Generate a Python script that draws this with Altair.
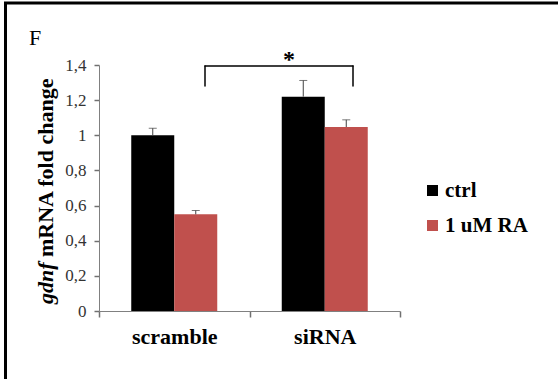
import altair as alt
import pandas as pd

groups = ["scramble", "scramble", "siRNA", "siRNA"]
treatments = ["ctrl", "1 uM RA", "ctrl", "1 uM RA"]
values = [1.0, 0.55, 1.22, 1.047]
uppers = [1.04, 0.572, 1.312, 1.088]
y_ticks = [0, 0.2, 0.4, 0.6, 0.8, 1.0, 1.2, 1.4]
treat_order = ["ctrl", "1 uM RA"]
treat_colors = ["#000000", "#C0504D"]

df = pd.DataFrame({"group": groups, "treatment": treatments,
                   "value": values, "upper": uppers})

FONT = "Times New Roman"

x_axis = alt.Axis(title=None, labelAngle=0, tickBand="extent")
x_enc = alt.X("group:N", sort=["scramble", "siRNA"],
              scale=alt.Scale(paddingInner=0, paddingOuter=0), axis=x_axis)
xo_enc = alt.XOffset("treatment:N", sort=treat_order,
                     scale=alt.Scale(domain=treat_order, paddingInner=0, paddingOuter=0.75))
y_scale = alt.Scale(domain=[0, 1.4], nice=False, zero=True)
y_axis = alt.Axis(title=None, values=y_ticks,
                  labelExpr="replace(format(datum.value, '.1~f'), '.', ',')")

base = alt.Chart(df)

bars = base.mark_bar().encode(
    x=x_enc, xOffset=xo_enc,
    y=alt.Y("value:Q", scale=y_scale, axis=y_axis),
    color=alt.Color("treatment:N",
                    scale=alt.Scale(domain=treat_order, range=treat_colors),
                    legend=alt.Legend(title=None, orient="none", legendX=323, legendY=115,
                                      symbolType="square", symbolSize=121,
                                      symbolStrokeWidth=0, rowPadding=13,
                                      labelOffset=2, padding=0)),
)

err = base.mark_rule(color="#404040", strokeWidth=1).encode(
    x=x_enc, xOffset=xo_enc, y=alt.Y("value:Q", scale=y_scale, axis=y_axis), y2="upper:Q")
caps = base.mark_tick(color="#404040", size=8, thickness=1).encode(
    x=x_enc, xOffset=xo_enc, y=alt.Y("upper:Q", scale=y_scale, axis=y_axis))

ann = alt.Chart(pd.DataFrame({"a": [0]}))
br_left = ann.mark_rule(color="#000000", strokeWidth=1.5, strokeCap="round").encode(
    x=alt.value(106), y=alt.Y(datum=1.28, scale=y_scale, axis=y_axis), y2=alt.datum(1.395))
br_right = ann.mark_rule(color="#000000", strokeWidth=1.5, strokeCap="round").encode(
    x=alt.value(254), y=alt.Y(datum=1.28, scale=y_scale, axis=y_axis), y2=alt.datum(1.395))
br_top = ann.mark_rule(color="#000000", strokeWidth=1.5, strokeCap="round").encode(
    x=alt.value(106), x2=alt.value(254), y=alt.Y(datum=1.395, scale=y_scale, axis=y_axis))
star = ann.mark_text(text="*", font=FONT, fontSize=24, fontWeight="bold", color="#000000",
                     baseline="alphabetic", align="center").encode(
    x=alt.value(190), y=alt.value(2))
letter = ann.mark_text(text="F", font=FONT, fontSize=22, color="#000000",
                       baseline="alphabetic", align="left").encode(
    x=alt.value(-70), y=alt.value(-20))
ytitle1 = ann.mark_text(text="gdnf", font=FONT, fontSize=22, fontStyle="italic",
                        fontWeight="bold", color="#000000", angle=270,
                        baseline="alphabetic", align="left").encode(
    x=alt.value(-46), y=alt.value(239))
ytitle2 = ann.mark_text(text="mRNA fold change", font=FONT, fontSize=22,
                        fontWeight="bold", color="#000000", angle=270,
                        baseline="alphabetic", align="left").encode(
    x=alt.value(-46), y=alt.value(192))
border = ann.mark_rect(fill=None, stroke="#000000", strokeWidth=3).encode(
    x=alt.value(-93.5), y=alt.value(-62), x2=alt.value(700), y2=alt.value(600))

chart = alt.layer(bars, err, caps, br_left, br_right, br_top, star, letter,
                  ytitle1, ytitle2, border).properties(
    width=301, height=246,
    autosize=alt.AutoSizeParams(type="none"),
    padding={"left": 99, "top": 65, "right": 158, "bottom": 68},
    background="#ffffff",
).configure_view(stroke=None).configure_axis(
    labelFont=FONT, domainColor="#808080", tickColor="#707070", ticks=True,
    tickWidth=1.5, domainWidth=1, grid=False, labelOverlap=False,
).configure_axisY(
    labelFontSize=17, labelColor="#333333", tickSize=5, labelPadding=8,
).configure_axisX(
    labelFontSize=22, labelFontWeight="bold", labelColor="#000000",
    tickSize=6, labelPadding=9,
).configure_legend(
    labelFont=FONT, labelFontSize=21, labelFontWeight="bold", labelColor="#000000",
)

chart.save("out.html", embed_options={"renderer": "svg", "actions": False})
